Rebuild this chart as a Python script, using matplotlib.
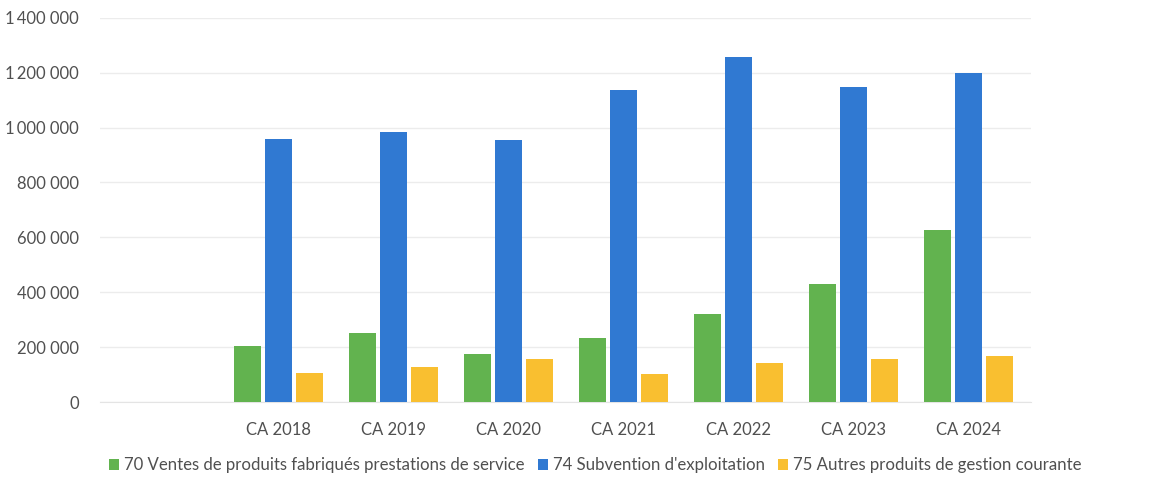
import matplotlib
matplotlib.use("Agg")
import matplotlib.pyplot as plt
from matplotlib.ticker import FuncFormatter
import numpy as np

categories = ["CA 2018", "CA 2019", "CA 2020", "CA 2021", "CA 2022", "CA 2023", "CA 2024"]
ventes = [205000, 250000, 175000, 235000, 320000, 430000, 628000]
subvention = [957000, 982000, 955000, 1136000, 1255000, 1146000, 1198000]
autres = [105000, 128000, 157000, 101000, 143000, 158000, 167000]
series_labels = ["70 Ventes de produits fabriqués prestations de service",
                 "74 Subvention d'exploitation",
                 "75 Autres produits de gestion courante"]
colors = ["#62b34f", "#3079d2", "#f9bf30"]

plt.rcParams['font.family'] = ['Lato', 'DejaVu Sans']

fig = plt.figure(figsize=(11.56, 4.91), dpi=100)
ax = fig.add_axes([0.0865, 0.181, 0.805, 0.783])

x = np.arange(len(categories))
w = 0.235
off = 0.27
for i, (vals, c, lab) in enumerate(zip([ventes, subvention, autres], colors, series_labels)):
    ax.bar(x + (i - 1) * off, vals, width=w, color=c, label=lab, zorder=3)


def fmt(v, p):
    if v == 0:
        return "0"
    s = f"{int(v):,}".replace(",", " ")
    parts = s.split(" ")
    if len(parts) == 3:
        return parts[0] + "\u2009" + parts[1] + " " + parts[2]
    return s


ax.set_ylim(0, 1400000)
ax.set_yticks(np.arange(0, 1400001, 200000))
ax.yaxis.set_major_formatter(FuncFormatter(fmt))
ax.set_xlim(-1.55, 6.54)
ax.set_xticks(x)
ax.set_xticklabels(categories)
ax.grid(axis='y', color='#ececec', linewidth=1, zorder=0)
for s in ['top', 'right', 'left']:
    ax.spines[s].set_visible(False)
ax.spines['bottom'].set_color('#e4e4e4')
ax.tick_params(axis='both', length=0, labelsize=12, colors='#505050')
ax.tick_params(axis='x', pad=14)
ax.tick_params(axis='y', pad=15)

leg = fig.legend(loc='center', bbox_to_anchor=(0.515, 0.052), ncol=3, frameon=False,
                 fontsize=12.1, handlelength=0.6, handleheight=0.6, handletextpad=0.3,
                 columnspacing=0.8, labelcolor='#505050')

fig.savefig("out.png", dpi=100, facecolor='white')
